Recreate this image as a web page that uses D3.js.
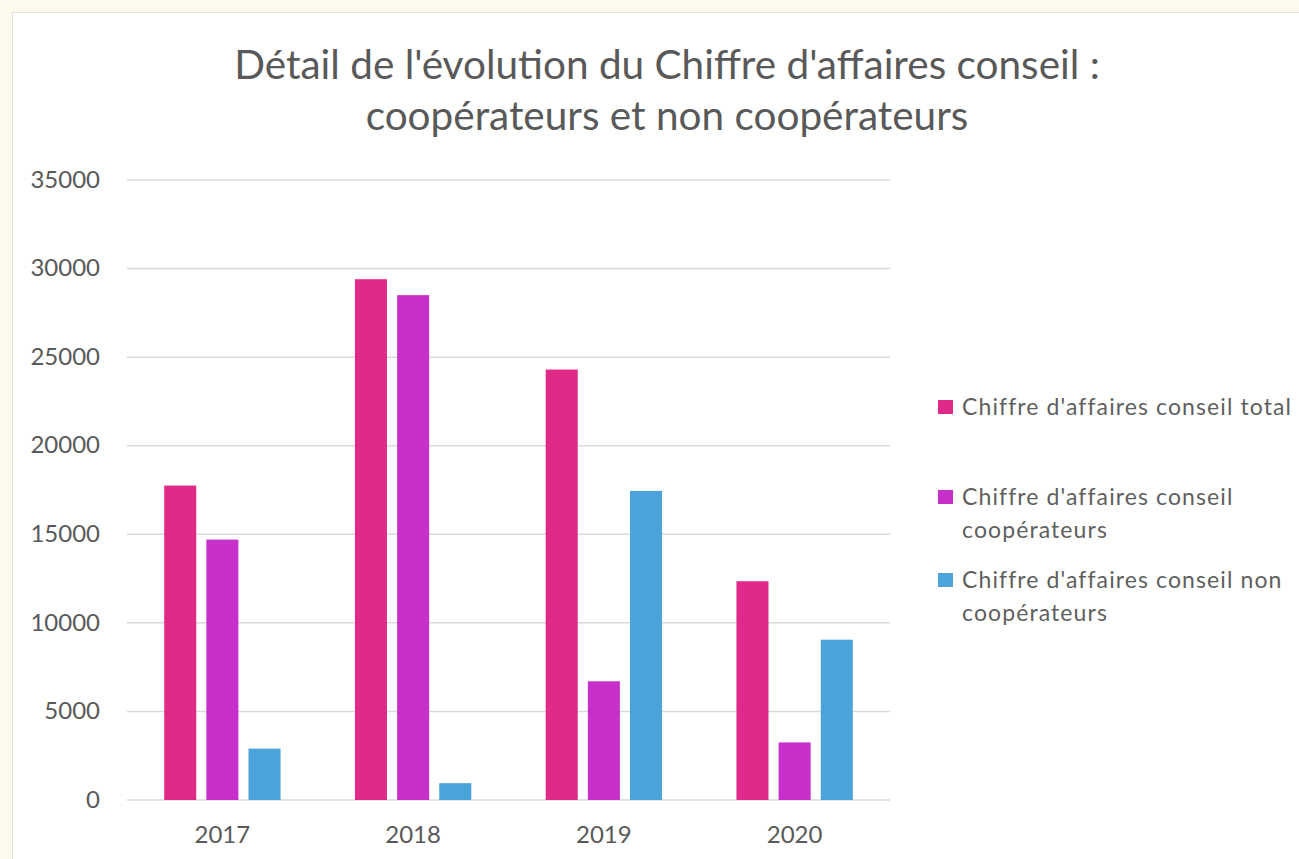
<!DOCTYPE html>
<html>
<head>
<meta charset="utf-8">
<script src="https://cdn.jsdelivr.net/npm/d3@7"></script>
<style>
  body { margin: 0; background: #fdf9ec; }
  svg { display: block; }
  .axis text { font-family: Lato, "DejaVu Sans", sans-serif; fill: #595959; }
</style>
</head>
<body>
<svg id="chart"></svg>
<script>
/*
		DATA
*/
var years = ["2017", "2018", "2019", "2020"];
var seriesNames = [
  "Chiffre d'affaires conseil total",
  "Chiffre d'affaires conseil coopérateurs",
  "Chiffre d'affaires conseil non coopérateurs"
];
var caTotal = [17750, 29400, 24300, 12350];
var caCoop = [14700, 28500, 6700, 3250];
var caNonCoop = [2900, 950, 17450, 9050];
var yTicks = [0, 5000, 10000, 15000, 20000, 25000, 30000, 35000];
var legendLines = [
  ["Chiffre d'affaires conseil total"],
  ["Chiffre d'affaires conseil", "coopérateurs"],
  ["Chiffre d'affaires conseil non", "coopérateurs"]
];
var colors = ["#e02a8a", "#c62fc9", "#4ba3da"];

/*
		 LAYOUT
*/
var width = 1299;
var height = 859;
var plot = {left: 127, right: 890, top: 180, bottom: 800};

var svg = d3.select("#chart")
    .attr("width", width)
    .attr("height", height);

// white panel on cream page
svg.append("rect")
    .attr("x", 12.5).attr("y", 12.5)
    .attr("width", width).attr("height", height)
    .attr("fill", "#ffffff")
    .attr("stroke", "#e3e0d6");

// title
var title = svg.append("text")
    .attr("text-anchor", "middle")
    .attr("font-family", "Lato, sans-serif")
    .attr("font-size", 40.5)
    .attr("fill", "#595959");
title.append("tspan").attr("x", 667).attr("y", 79).text("Détail de l'évolution du Chiffre d'affaires conseil :");
title.append("tspan").attr("x", 667).attr("y", 130).text("coopérateurs et non coopérateurs");

/*
		 SCALES
*/
var x0 = d3.scaleBand()
    .domain(years)
    .range([plot.left, plot.right])
    .paddingInner(0.39)
    .paddingOuter(0.195);

var x1 = d3.scaleBand()
    .domain(d3.range(seriesNames.length))
    .range([0, x0.bandwidth()])
    .paddingInner(0.24);

var y = d3.scaleLinear()
    .domain([0, 35000])
    .range([plot.bottom, plot.top]);

// gridlines
svg.append("g")
    .selectAll("line")
    .data(yTicks)
    .enter().append("line")
    .attr("x1", plot.left).attr("x2", plot.right)
    .attr("y1", function(d) { return y(d); })
    .attr("y2", function(d) { return y(d); })
    .attr("stroke", "#d9d9d9")
    .attr("stroke-width", 1.5);

// y axis labels
var yAxis = svg.append("g")
    .attr("class", "axis")
    .attr("transform", "translate(100,0)")
    .call(d3.axisLeft(y).tickValues(yTicks).tickSize(0).tickPadding(0).tickFormat(d3.format("d")));
yAxis.select(".domain").remove();
yAxis.selectAll("text").attr("font-size", 24).attr("dy", "0.3em");

// x axis labels
var xAxis = svg.append("g")
    .attr("class", "axis")
    .attr("transform", "translate(0," + plot.bottom + ")")
    .call(d3.axisBottom(x0).tickSize(0).tickPadding(26));
xAxis.select(".domain").remove();
xAxis.selectAll("text").attr("font-size", 24);

/*
		 BARS
*/
var rows = years.map(function(yr, i) {
  return {year: yr, values: [caTotal[i], caCoop[i], caNonCoop[i]]};
});

var groups = svg.append("g")
    .selectAll("g")
    .data(rows)
    .enter().append("g")
    .attr("transform", function(d) { return "translate(" + x0(d.year) + ",0)"; });

groups.selectAll("rect")
    .data(function(d) { return d.values; })
    .enter().append("rect")
    .attr("x", function(d, i) { return x1(i); })
    .attr("width", x1.bandwidth())
    .attr("y", function(d) { return y(d); })
    .attr("height", function(d) { return y(0) - y(d); })
    .attr("fill", function(d, i) { return colors[i]; });

/*
		 LEGEND
*/
var legendY = [407, 497, 580];
var legend = svg.append("g")
    .selectAll("g")
    .data(legendLines)
    .enter().append("g")
    .attr("transform", function(d, i) { return "translate(938," + legendY[i] + ")"; });

legend.append("rect")
    .attr("x", 0).attr("y", -7)
    .attr("width", 15).attr("height", 14)
    .attr("fill", function(d, i) { return colors[i]; });

legend.append("text")
    .attr("font-family", "Lato, sans-serif")
    .attr("font-size", 23)
    .attr("letter-spacing", 1.1)
    .attr("fill", "#5f5f5f")
    .selectAll("tspan")
    .data(function(d) { return d; })
    .enter().append("tspan")
    .attr("x", 24)
    .attr("y", function(d, i) { return i * 33; })
    .attr("dy", "0.35em")
    .text(function(d) { return d; });
</script>
</body>
</html>
